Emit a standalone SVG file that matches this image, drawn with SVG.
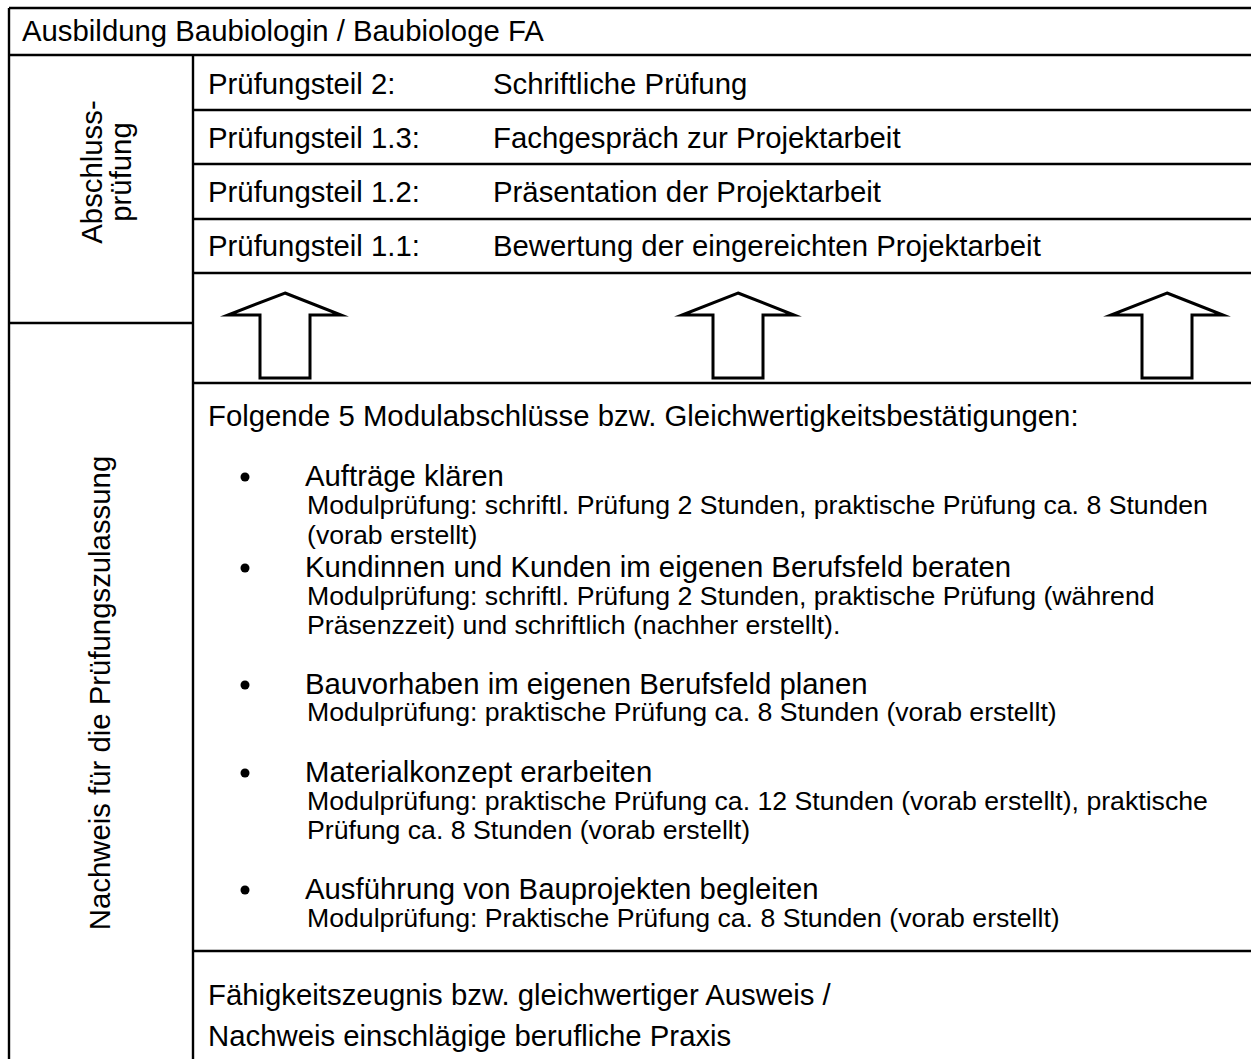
<svg xmlns="http://www.w3.org/2000/svg" width="1251" height="1059" viewBox="0 0 1251 1059">
<style>
.ln{stroke:#000;stroke-width:2.4;fill:none}
.t{font-family:"Liberation Sans",Arial,sans-serif;font-size:29.33px;fill:#000}
.s{font-family:"Liberation Sans",Arial,sans-serif;font-size:26.67px;fill:#000}
.ar{fill:#fff;stroke:#000;stroke-width:3;stroke-linejoin:miter;stroke-miterlimit:12}
.b{fill:#000}
</style>
<rect width="1251" height="1059" fill="#fff"/>
<g id="grid">
<path class="ln" d="M9,8H1251M9,8V1059M9,55H1251M193,55V1059M193,110H1251M193,164H1251M193,219H1251M193,273H1251M9,323H193M193,383H1251M193,951H1251"/>
</g>
<g id="title"><text class="t" x="22" y="41">Ausbildung Baubiologin / Baubiologe FA</text></g>
<g id="abschluss"><text class="t" transform="translate(102,172) rotate(-90)" text-anchor="middle"><tspan x="0" y="0">Abschluss-</tspan><tspan x="0" y="29">prüfung</tspan></text></g>
<g id="teil2"><text class="t" x="208" y="94">Prüfungsteil 2:</text><text class="t" x="493" y="94">Schriftliche Prüfung</text></g>
<g id="teil13"><text class="t" x="208" y="148">Prüfungsteil 1.3:</text><text class="t" x="493" y="148">Fachgespräch zur Projektarbeit</text></g>
<g id="teil12"><text class="t" x="208" y="202">Prüfungsteil 1.2:</text><text class="t" x="493" y="202">Präsentation der Projektarbeit</text></g>
<g id="teil11"><text class="t" x="208" y="256">Prüfungsteil 1.1:</text><text class="t" x="493" y="256">Bewertung der eingereichten Projektarbeit</text></g>
<g id="nachweis"><text class="t" transform="translate(110,693) rotate(-90)" text-anchor="middle">Nachweis für die Prüfungszulassung</text></g>
<g id="module">
<text class="t" x="208" y="426">Folgende 5 Modulabschlüsse bzw. Gleichwertigkeitsbestätigungen:</text>
<circle class="b" cx="245" cy="477" r="4.5"/>
<text class="t" x="305" y="486">Aufträge klären</text>
<text class="s" x="307" y="514">Modulprüfung: schriftl. Prüfung 2 Stunden, praktische Prüfung ca. 8 Stunden</text>
<text class="s" x="307" y="544">(vorab erstellt)</text>
<circle class="b" cx="245" cy="568" r="4.5"/>
<text class="t" x="305" y="577">Kundinnen und Kunden im eigenen Berufsfeld beraten</text>
<text class="s" x="307" y="605">Modulprüfung: schriftl. Prüfung 2 Stunden, praktische Prüfung (während</text>
<text class="s" x="307" y="634">Präsenzzeit) und schriftlich (nachher erstellt).</text>
<circle class="b" cx="245" cy="685" r="4.5"/>
<text class="t" x="305" y="694">Bauvorhaben im eigenen Berufsfeld planen</text>
<text class="s" x="307" y="721">Modulprüfung: praktische Prüfung ca. 8 Stunden (vorab erstellt)</text>
<circle class="b" cx="245" cy="773" r="4.5"/>
<text class="t" x="305" y="782">Materialkonzept erarbeiten</text>
<text class="s" x="307" y="810">Modulprüfung: praktische Prüfung ca. 12 Stunden (vorab erstellt), praktische</text>
<text class="s" x="307" y="839">Prüfung ca. 8 Stunden (vorab erstellt)</text>
<circle class="b" cx="245" cy="890" r="4.5"/>
<text class="t" x="305" y="899">Ausführung von Bauprojekten begleiten</text>
<text class="s" x="307" y="927">Modulprüfung: Praktische Prüfung ca. 8 Stunden (vorab erstellt)</text>
</g>
<g id="zulassung">
<text class="t" x="208" y="1005">Fähigkeitszeugnis bzw. gleichwertiger Ausweis /</text>
<text class="t" x="208" y="1046">Nachweis einschlägige berufliche Praxis</text>
</g>
<g id="connectors">
<path class="ar" d="M285,293L341,315H310V378H260V315H228Z"/>
<path class="ar" d="M738,293L794,315H763V378H713V315H682Z"/>
<path class="ar" d="M1167,293L1223,315H1192V378H1142V315H1111Z"/>
</g>
</svg>
